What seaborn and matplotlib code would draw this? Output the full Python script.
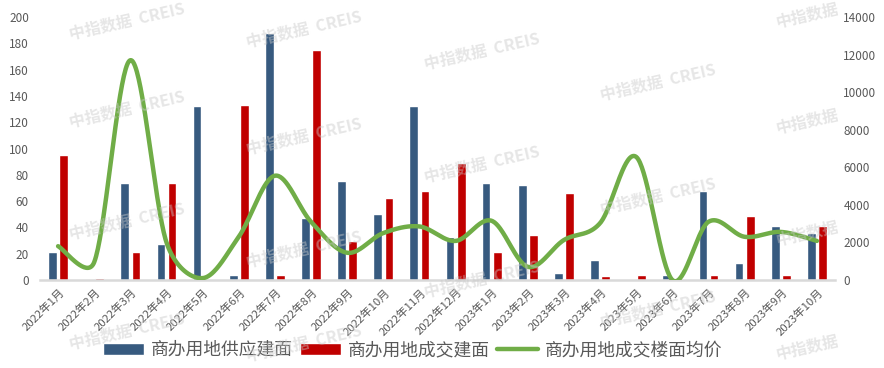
import numpy as np
import pandas as pd
import seaborn as sns
import matplotlib.pyplot as plt
from matplotlib.patches import Patch
from matplotlib.lines import Line2D
import matplotlib.transforms as mtransforms

# Data
months = ["2022年1月", "2022年2月", "2022年3月", "2022年4月", "2022年5月", "2022年6月",
          "2022年7月", "2022年8月", "2022年9月", "2022年10月", "2022年11月", "2022年12月",
          "2023年1月", "2023年2月", "2023年3月", "2023年4月", "2023年5月", "2023年6月",
          "2023年7月", "2023年8月", "2023年9月", "2023年10月"]
supply = [21, 0, 74, 27, 132, 4, 188, 47, 75, 50, 132, 33,
          74, 72, 5, 15, 0, 4, 68, 13, 41, 36]
deal = [95, 1.5, 21, 74, 0, 133, 4, 175, 30, 62, 68, 89,
        21, 34, 66, 3, 4, 0, 4, 49, 4, 41]
price = [1800, 950, 11700, 2000, 100, 2300, 5550, 3100, 1450, 2500, 2850, 2080,
         3150, 700, 2130, 3030, 6550, 0, 3100, 2300, 2560, 2080]

s_supply = "商办用地供应建面"
s_deal = "商办用地成交建面"
s_price = "商办用地成交楼面均价"

c_blue = "#375A7F"
c_red = "#C00000"
c_green = "#70AD47"
c_text = "#595959"

sns.set_theme(style="white")
plt.rcParams["font.family"] = ["Noto Sans CJK SC", "DejaVu Sans"]

df = pd.DataFrame({
    "month": months * 2,
    "series": [s_supply] * len(months) + [s_deal] * len(months),
    "value": supply + deal,
})

fig = plt.figure(figsize=(8.84, 3.68), dpi=100)
ax = fig.add_axes([40 / 884, 1 - 280 / 368, 795 / 884, 263 / 368])

sns.barplot(data=df, x="month", y="value", hue="series", order=months,
            hue_order=[s_supply, s_deal], palette=[c_blue, c_red],
            width=0.62, gap=0.22, saturation=1, legend=False, ax=ax)

ax.set_xlim(-0.5, len(months) - 0.5)
ax.set_ylim(0, 200)
ax.set_yticks(range(0, 201, 20))
ax.set_xlabel("")
ax.set_ylabel("")
for sp in ["top", "right", "left"]:
    ax.spines[sp].set_visible(False)
ax.spines["bottom"].set_color("#D9D9D9")
ax.spines["bottom"].set_linewidth(1.8)
ax.tick_params(axis="both", length=0, colors=c_text)
ax.tick_params(axis="y", labelsize=8.5, pad=8)
ax.set_xticks(range(len(months)))
ax.set_xticklabels(months, rotation=45, ha="right", rotation_mode="anchor",
                   fontsize=8.2, color=c_text)
ax.tick_params(axis="x", pad=5)
offset = mtransforms.ScaledTranslation(1 / 100, 0, fig.dpi_scale_trans)
for lab in ax.get_xticklabels():
    lab.set_transform(lab.get_transform() + offset)

# smoothed price line, Excel-style bezier (handles capped at half the segment)
ax2 = ax.twinx()
sx = 795 / 22          # px per category
sy = 263 / 14000       # px per price unit
P = np.column_stack([np.arange(len(price)) * sx, np.array(price, float) * sy])
Pe = np.vstack([P[0], P, P[-1]])
t = np.linspace(0, 1, 40)[:, None]
curve = []
for i in range(1, len(Pe) - 2):
    p0, p1, p2, p3 = Pe[i - 1], Pe[i], Pe[i + 1], Pe[i + 2]
    d12 = np.linalg.norm(p2 - p1)
    h1 = (p2 - p0) / 6
    h2 = (p3 - p1) / 6
    if np.linalg.norm(h1) > d12 / 2:
        h1 = h1 / np.linalg.norm(h1) * d12 / 2
    if np.linalg.norm(h2) > d12 / 2:
        h2 = h2 / np.linalg.norm(h2) * d12 / 2
    b1, b2 = p1 + h1, p2 - h2
    seg = (1 - t) ** 3 * p1 + 3 * (1 - t) ** 2 * t * b1 + 3 * (1 - t) * t ** 2 * b2 + t ** 3 * p2
    curve.append(seg)
curve = np.vstack(curve)
sns.lineplot(x=curve[:, 0] / sx, y=curve[:, 1] / sy, sort=False, color=c_green,
             linewidth=3.2, ax=ax2)
ax2.set_ylim(0, 14000)
ax2.set_yticks(range(0, 14001, 2000))
for sp in ["top", "right", "left", "bottom"]:
    ax2.spines[sp].set_visible(False)
ax2.tick_params(axis="y", length=0, colors=c_text, labelsize=8.5, pad=6)
ax2.set_xlim(-0.5, len(months) - 0.5)

# watermarks
wm = [(127, 22), (304, 30), (482, 52), (658, 83),
      (127, 110), (304, 137), (482, 165), (658, 197),
      (127, 222), (304, 250), (482, 280), (658, 310),
      (127, 332), (304, 344)]
for x, y in wm:
    fig.text(x / 884, 1 - y / 368, "中指数据  CREIS", rotation=13, ha="center", va="center",
             fontsize=11.5, fontweight="bold", color="#C8C8C8", alpha=0.45, zorder=10)
for y in [16, 122, 234, 348]:
    fig.text(807 / 884, 1 - y / 368, "中指数据", rotation=13, ha="center", va="center",
             fontsize=11.5, fontweight="bold", color="#C8C8C8", alpha=0.45, zorder=10)

handles = [Patch(facecolor=c_blue), Patch(facecolor=c_red),
           Line2D([0], [0], color=c_green, linewidth=3.2)]
fig.legend(handles, [s_supply, s_deal, s_price], loc="center", ncol=3,
           bbox_to_anchor=(413 / 884, 1 - 350 / 368), frameon=False, fontsize=12.8,
           labelcolor=c_text, handlelength=2.3, handleheight=0.65,
           handletextpad=0.4, columnspacing=0.4)

fig.savefig("out.png", dpi=100)
